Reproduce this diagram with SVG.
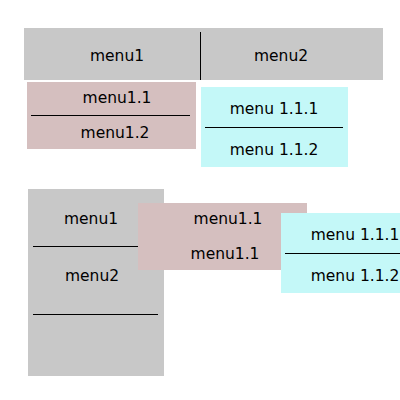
<svg xmlns="http://www.w3.org/2000/svg" width="400" height="400" viewBox="0 0 400 400">
<style>
.g{fill:#c8c8c8}.p{fill:#d5bfbf}.c{fill:#c4f8f8}
.ln{stroke:#000;stroke-width:1}
text{font-family:"DejaVu Sans",Verdana,sans-serif;font-size:15.5px;fill:#000;text-anchor:middle}
</style>
<rect width="400" height="400" fill="#fff"/>
<g id="menubar">
<rect class="g" x="24" y="28" width="359" height="52"/>
<line class="ln" x1="200.5" y1="32" x2="200.5" y2="80"/>
<text x="117" y="61">menu1</text>
<text x="281" y="61">menu2</text>
</g>
<g id="submenu1">
<rect class="p" x="27" y="82" width="169" height="67"/>
<line class="ln" x1="31" y1="115.5" x2="190" y2="115.5"/>
<text x="117" y="103">menu1.1</text>
<text x="115" y="138">menu1.2</text>
</g>
<g id="submenu11">
<rect class="c" x="201" y="87" width="147" height="80"/>
<line class="ln" x1="205" y1="127.5" x2="343" y2="127.5"/>
<text x="274" y="114">menu 1.1.1</text>
<text x="274" y="155">menu 1.1.2</text>
</g>
<g id="vmenu">
<rect class="g" x="28" y="189" width="136" height="187"/>
<line class="ln" x1="33" y1="246.5" x2="138" y2="246.5"/>
<line class="ln" x1="33" y1="314.5" x2="158" y2="314.5"/>
<text x="91" y="224">menu1</text>
<text x="92" y="281">menu2</text>
</g>
<g id="vsubmenu1">
<rect class="p" x="138" y="203" width="169" height="67"/>
<text x="228" y="224">menu1.1</text>
<text x="225" y="259">menu1.1</text>
</g>
<g id="vsubmenu11">
<rect class="c" x="281" y="213" width="119" height="80"/>
<line class="ln" x1="285" y1="253.5" x2="400" y2="253.5"/>
<text x="355" y="240">menu 1.1.1</text>
<text x="355" y="281">menu 1.1.2</text>
</g>
</svg>
